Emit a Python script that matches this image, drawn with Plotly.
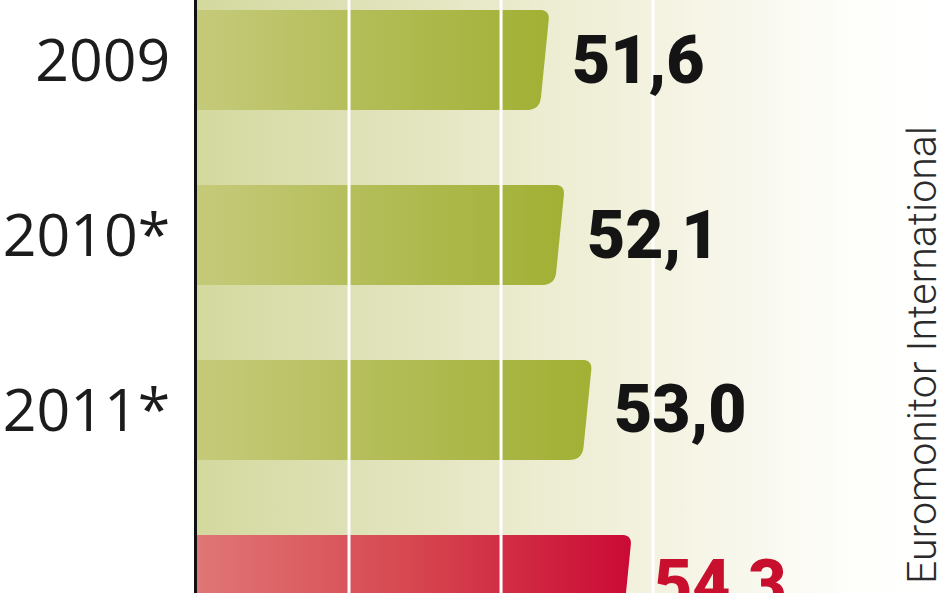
import numpy as np
import plotly.graph_objects as go

# data
years = ["2009", "2010*", "2011*", "2012*"]
values = [51.6, 52.1, 53.0, 54.3]
value_labels = ["51,6", "52,1", "53,0", "54,3"]
highlight = [False, False, False, True]
grid_values = [45, 50, 55]
source = "Euromonitor International"

# axis windows (picture is a crop of a bigger chart)
X_RANGE = [40, 64.7]
Y_RANGE = [3.046, -0.343]
W, H = 948, 593
LEFT = 197
PX_X = (W - LEFT) / (X_RANGE[1] - X_RANGE[0])
PX_Y = H / (Y_RANGE[0] - Y_RANGE[1])

GREEN = [[0, "#c5ca7a"], [0.5, "#b2bc55"], [1, "#a2b034"]]
RED = [[0, "#e07676"], [0.5, "#d6464f"], [1, "#cb0a35"]]
BG = [[0, "#d4d99f"], [0.2, "#dee1b5"], [0.4, "#e9eacb"], [0.6, "#f3f2df"],
      [0.75, "#f9f8ef"], [0.88, "#fefefb"], [1, "#ffffff"]]


def bezier(p0, p1, p2, n=12):
    t = np.linspace(0, 1, n)[:, None]
    return (1 - t) ** 2 * p0 + 2 * (1 - t) * t * p1 + t ** 2 * p2


def bar_outline(v, i, half=0.2857, slant_px=10, r_top=10, r_bot=13):
    top, bot = i - half, i + half
    a = np.array([v, top])
    b = np.array([v - slant_px / PX_X, bot])
    edge_len = np.hypot(slant_px, 2 * half * PX_Y)
    c1 = bezier(np.array([v - r_top / PX_X, top]), a, a + (b - a) * r_top / edge_len)
    c2 = bezier(b + (a - b) * r_bot / edge_len, b, np.array([b[0] - r_bot / PX_X, bot]))
    pts = np.vstack([[X_RANGE[0], top], c1, c2, [X_RANGE[0], bot], [X_RANGE[0], top]])
    return pts[:, 0], pts[:, 1]


fig = go.Figure()

# background wash
fig.add_trace(go.Scatter(
    x=[X_RANGE[0], X_RANGE[1], X_RANGE[1], X_RANGE[0], X_RANGE[0]],
    y=[Y_RANGE[1], Y_RANGE[1], Y_RANGE[0], Y_RANGE[0], Y_RANGE[1]],
    mode="none", fill="toself",
    fillgradient=dict(type="horizontal", colorscale=BG, start=X_RANGE[0], stop=X_RANGE[1]),
    hoverinfo="skip", showlegend=False,
))

for i, (v, hl) in enumerate(zip(values, highlight)):
    xs, ys = bar_outline(v, i)
    fig.add_trace(go.Scatter(
        x=xs, y=ys, mode="none", fill="toself",
        fillgradient=dict(type="horizontal", colorscale=RED if hl else GREEN,
                          start=X_RANGE[0], stop=v),
        hoverinfo="skip", showlegend=False,
    ))

# white grid lines drawn over the bars
for g in grid_values:
    fig.add_shape(type="line", xref="x", yref="paper", x0=g, x1=g, y0=0, y1=1,
                  line=dict(color="white", width=3), layer="above")

for i, (v, lab, hl) in enumerate(zip(values, value_labels, highlight)):
    fig.add_annotation(
        x=v, y=i, text=lab, showarrow=False, xanchor="left", yanchor="middle",
        xshift=20,
        font=dict(family="Roboto", size=66, weight=900,
                  color="#c8102e" if hl else "#141414"),
    )

# source, running up the right edge
fig.add_annotation(
    x=1.0, y=1 - 355 / H, xref="paper", yref="paper",
    text=source, textangle=-90, showarrow=False,
    font=dict(family="Roboto", size=41, weight=300, color="#2a2a2a"),
)

fig.update_layout(
    width=W, height=H,
    margin=dict(l=LEFT, r=0, t=0, b=0),
    paper_bgcolor="white", plot_bgcolor="white",
    hovermode=False, showlegend=False,
)
fig.update_xaxes(range=X_RANGE, showgrid=False, zeroline=False, showticklabels=False,
                 fixedrange=True)
fig.update_yaxes(
    range=Y_RANGE, tickmode="array", tickvals=list(range(len(years))), ticktext=years,
    showgrid=False, zeroline=False, showline=True, linecolor="#111111", linewidth=3,
    layer="above traces", ticks="", ticklabelstandoff=12,
    tickfont=dict(family="Open Sans", size=59, color="#1c1c1c"), fixedrange=True,
)

# drop the page's default body margin so the chart sits at the window corner
fig.write_html("out.html", config={"displayModeBar": False},
               post_script="document.body.style.margin='0';")
